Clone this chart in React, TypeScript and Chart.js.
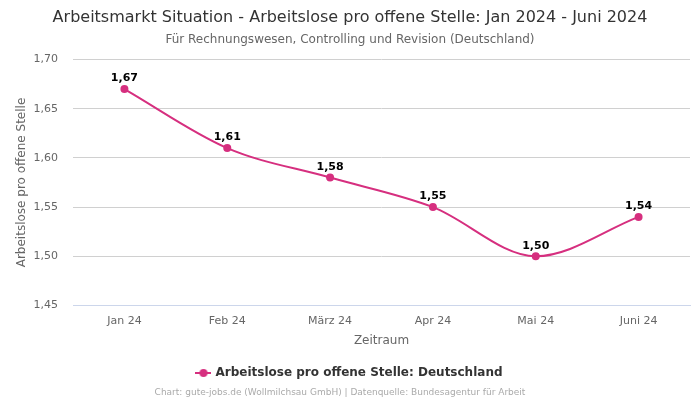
import React, { useEffect, useRef } from "react";
import { Chart, registerables } from "chart.js";

Chart.register(...registerables);

const categories = ["Jan 24", "Feb 24", "März 24", "Apr 24", "Mai 24", "Juni 24"];
const values = [1.67, 1.61, 1.58, 1.55, 1.5, 1.54];
const seriesLabel = "Arbeitslose pro offene Stelle: Deutschland";
const titleText = "Arbeitsmarkt Situation - Arbeitslose pro offene Stelle: Jan 2024 - Juni 2024";
const subtitleText = "Für Rechnungswesen, Controlling und Revision (Deutschland)";
const footerText = "Chart: gute-jobs.de (Wollmilchsau GmbH) | Datenquelle: Bundesagentur für Arbeit";
const yTitle = "Arbeitslose pro offene Stelle";
const xTitle = "Zeitraum";

const FONT = "'DejaVu Sans', sans-serif";
const COLOR = "#d62f7f";

const fmt = (v: number) => v.toFixed(2).replace(".", ",");

function legendMarker(): HTMLCanvasElement {
  const c = document.createElement("canvas");
  c.width = 16;
  c.height = 10;
  const ctx = c.getContext("2d")!;
  ctx.strokeStyle = COLOR;
  ctx.lineWidth = 2;
  ctx.beginPath();
  ctx.moveTo(0, 5);
  ctx.lineTo(16, 5);
  ctx.stroke();
  ctx.fillStyle = COLOR;
  ctx.beginPath();
  ctx.arc(8, 5, 4, 0, Math.PI * 2);
  ctx.fill();
  return c;
}

const labelPlugin = {
  id: "pointLabels",
  afterDatasetsDraw(chart: any) {
    const ctx = chart.ctx;
    const meta = chart.getDatasetMeta(0);
    ctx.save();
    ctx.font = `bold 11px ${FONT}`;
    ctx.fillStyle = "#000";
    ctx.textAlign = "center";
    ctx.textBaseline = "bottom";
    meta.data.forEach((pt: any, i: number) => {
      ctx.fillText(fmt(values[i]), pt.x, pt.y - 5);
    });
    ctx.restore();
  },
};

const footerPlugin = {
  id: "footerText",
  afterDraw(chart: any) {
    const ctx = chart.ctx;
    ctx.save();
    ctx.font = `9px ${FONT}`;
    ctx.fillStyle = "#aaa";
    ctx.textAlign = "center";
    ctx.textBaseline = "middle";
    ctx.fillText(footerText, 340, 392.5);
    ctx.restore();
  },
};

export default function App() {
  const ref = useRef<HTMLCanvasElement | null>(null);
  useEffect(() => {
    document.body.style.margin = "0";
    const marker = legendMarker();
    const chart = new Chart(ref.current!, {
      type: "line",
      data: {
        labels: categories,
        datasets: [
          {
            label: seriesLabel,
            data: values,
            borderColor: COLOR,
            backgroundColor: COLOR,
            borderWidth: 2,
            pointRadius: 4,
            pointBorderWidth: 0,
            pointHoverRadius: 4,
            cubicInterpolationMode: "monotone",
            fill: false,
          },
        ],
      },
      options: {
        responsive: false,
        animation: false,
        layout: { padding: { left: 10, right: 10, top: 4, bottom: 11 } },
        plugins: {
          title: {
            display: true,
            text: titleText,
            color: "#333",
            font: { family: FONT, size: 16, weight: "normal" },
            padding: { top: 4, bottom: 5 },
          },
          subtitle: {
            display: true,
            text: subtitleText,
            color: "#666",
            font: { family: FONT, size: 12, weight: "normal" },
            padding: { top: 0, bottom: 13 },
          },
          legend: {
            position: "bottom",
            labels: {
              usePointStyle: true,
              color: "#333",
              font: { family: FONT, size: 12, weight: "bold" },
              boxWidth: 16,
              boxHeight: 10,
              padding: 12,
              generateLabels: (c: any) => {
                const items = Chart.defaults.plugins.legend.labels.generateLabels(c);
                items.forEach((it: any) => {
                  it.pointStyle = marker;
                });
                return items;
              },
            },
          },
          tooltip: { enabled: false },
        },
        scales: {
          x: {
            offset: true,
            grid: { display: false },
            border: { color: "#ccd6eb" },
            ticks: { color: "#666", font: { family: FONT, size: 11 }, padding: 1 },
            title: {
              display: true,
              text: xTitle,
              color: "#666",
              font: { family: FONT, size: 12 },
              padding: { top: 5, bottom: 7 },
            },
          },
          y: {
            min: 1.45,
            max: 1.7,
            grid: { color: "#d0d0d0", drawTicks: false },
            border: { display: false },
            afterFit: (scale: any) => {
              scale.width = 63;
            },
            ticks: {
              stepSize: 0.05,
              color: "#666",
              font: { family: FONT, size: 11 },
              padding: 15,
              callback: (v: any) => fmt(Number(v)),
            },
            title: {
              display: true,
              text: yTitle,
              color: "#666",
              font: { family: FONT, size: 12 },
              padding: { top: 5, bottom: 0 },
            },
          },
        },
      },
      plugins: [labelPlugin, footerPlugin],
    } as any);
    return () => chart.destroy();
  }, []);
  return (
    <div style={{ position: "absolute", left: 0, top: 0, width: 700, height: 400 }}>
      <canvas ref={ref} width={700} height={400} />
    </div>
  );
}
